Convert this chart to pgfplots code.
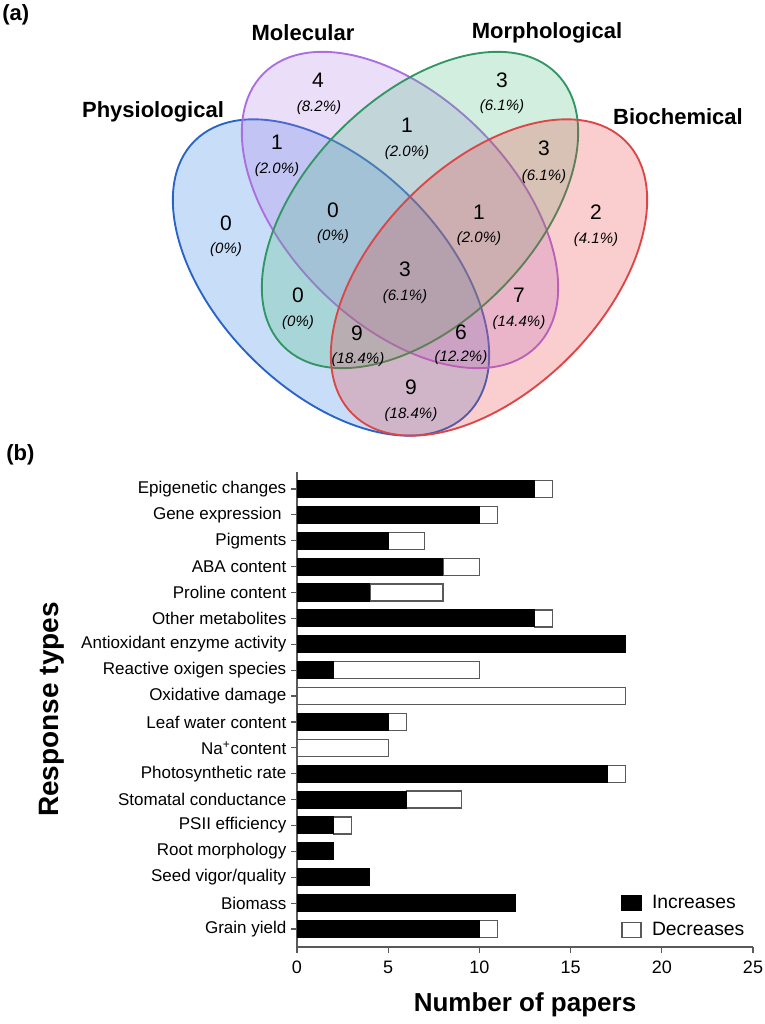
\documentclass[border=0pt]{standalone}
\usepackage{pgfplots}
\pgfplotsset{compat=1.18}
\usepackage{fontspec}
\setmainfont{Liberation Sans}
\definecolor{physS}{RGB}{40,100,200}
\definecolor{physF}{RGB}{35,123,227}
\definecolor{molS}{RGB}{170,110,225}
\definecolor{molF}{RGB}{175,123,227}
\definecolor{morS}{RGB}{50,150,100}
\definecolor{morF}{RGB}{75,187,123}
\definecolor{bioS}{RGB}{220,70,70}
\definecolor{bioF}{RGB}{235,60,60}
\newcommand{\nf}{\fontsize{15.75}{17}\selectfont}
\newcommand{\pf}{\fontsize{11.25}{13}\selectfont\itshape}
\newcommand{\lf}{\fontsize{16.5}{18}\selectfont\bfseries}
\begin{document}
\begin{tikzpicture}
\useasboundingbox (0,0) rectangle (573pt,768pt);
% ---------------- (a) Venn diagram ----------------
\begin{axis}[
  at={(0pt,434.25pt)}, anchor=south west,
  x=0.75pt, y=0.75pt,
  xmin=0, xmax=764, ymin=0, ymax=445,
  hide axis, clip=false,
]
\filldraw[draw=physS, fill=physF, fill opacity=0.25, line width=1.4pt,
  rotate around={-45:(axis cs:331,167.5)}] (axis cs:331,167.5) ellipse [x radius=193, y radius=113];
\filldraw[draw=molS, fill=molF, fill opacity=0.25, line width=1.4pt,
  rotate around={-45:(axis cs:400,235)}] (axis cs:400,235) ellipse [x radius=193, y radius=113];
\filldraw[draw=morS, fill=morF, fill opacity=0.25, line width=1.4pt,
  rotate around={45:(axis cs:420,235)}] (axis cs:420,235) ellipse [x radius=193, y radius=113];
\filldraw[draw=bioS, fill=bioF, fill opacity=0.25, line width=1.4pt,
  rotate around={45:(axis cs:489,167.5)}] (axis cs:489,167.5) ellipse [x radius=193, y radius=113];
% labels
\node[font=\lf] at (axis cs:303,412) {Molecular};
\node[font=\lf] at (axis cs:547,412) {Morphological};
\node[font=\lf] at (axis cs:153,333) {Physiological};
\node[font=\lf] at (axis cs:678,328) {Biochemical};
\node[font=\lf, anchor=west, inner sep=0pt] at (axis cs:2,430) {(a)};
\node[font=\lf, anchor=west, inner sep=0pt] at (axis cs:6,-10) {(b)};
% counts
\node[font=\nf] at (axis cs:318,365) {4};  \node[font=\pf] at (axis cs:319,337) {(8.2\%)};
\node[font=\nf] at (axis cs:277,303) {1};  \node[font=\pf] at (axis cs:277,275) {(2.0\%)};
\node[font=\nf] at (axis cs:226,222) {0};  \node[font=\pf] at (axis cs:226,195) {(0\%)};
\node[font=\nf] at (axis cs:333,235) {0};  \node[font=\pf] at (axis cs:333,208) {(0\%)};
\node[font=\nf] at (axis cs:298,150) {0};  \node[font=\pf] at (axis cs:298,122) {(0\%)};
\node[font=\nf] at (axis cs:357,112) {9};  \node[font=\pf] at (axis cs:358,85) {(18.4\%)};
\node[font=\nf] at (axis cs:502,365) {3};  \node[font=\pf] at (axis cs:502,338) {(6.1\%)};
\node[font=\nf] at (axis cs:407,320) {1};  \node[font=\pf] at (axis cs:407,292) {(2.0\%)};
\node[font=\nf] at (axis cs:544,297) {3};  \node[font=\pf] at (axis cs:544,268) {(6.1\%)};
\node[font=\nf] at (axis cs:479,233) {1};  \node[font=\pf] at (axis cs:479,206) {(2.0\%)};
\node[font=\nf] at (axis cs:596,233) {2};  \node[font=\pf] at (axis cs:596,205) {(4.1\%)};
\node[font=\nf] at (axis cs:405,176) {3};  \node[font=\pf] at (axis cs:405,148) {(6.1\%)};
\node[font=\nf] at (axis cs:519,150) {7};  \node[font=\pf] at (axis cs:519,122) {(14.4\%)};
\node[font=\nf] at (axis cs:461,113) {6};  \node[font=\pf] at (axis cs:461,87) {(12.2\%)};
\node[font=\nf] at (axis cs:411,58) {9};   \node[font=\pf] at (axis cs:411,30) {(18.4\%)};
\end{axis}
% ---------------- (b) bar chart ----------------
\begin{axis}[
  at={(222.75pt,57.75pt)}, anchor=south west,
  scale only axis, width=342pt, height=356.25pt,
  xbar stacked, bar width=12.75pt,
  xmin=0, xmax=25, ymin=-0.696, ymax=17.657,
  xtick={0,5,10,15,20,25},
  ytick={0,...,17},
  yticklabels={Grain yield, Biomass, Seed vigor/quality, Root morphology, PSII efficiency,
    Stomatal conductance, Photosynthetic rate, Na\textsuperscript{+}content, Leaf water content,
    Oxidative damage, Reactive oxigen species, Antioxidant enzyme activity, Other metabolites,
    Proline content, ABA content, Pigments, Gene expression\ \ , Epigenetic changes},
  axis x line*=bottom, axis y line*=left,
  axis line style={draw=black!65, line width=0.9pt},
  every tick/.style={draw=black!65, line width=0.9pt},
  tick align=outside, major tick length=4.5pt,
  /pgf/number format/assume math mode=true,
  ticklabel style={font=\fontsize{12.75}{14}\selectfont},
  xticklabel style={font=\fontsize{13.5}{15}\selectfont, yshift=-2.5pt},
  xlabel={Number of papers},
  xlabel style={font=\fontsize{19.5}{22}\selectfont\bfseries, at={(axis description cs:0.5,-0.122)}, anchor=center},
  ylabel={Response types},
  ylabel style={font=\fontsize{21}{24}\selectfont\bfseries, at={(axis description cs:-0.538,0.50)}, anchor=center},
  legend style={draw=none, fill=none, at={(axis description cs:0.711,0.115)}, anchor=north west,
    font=\fontsize{14.5}{16}\selectfont, row sep=5pt, inner sep=0pt},
  legend cell align=left,
  legend image code/.code={\draw[#1, line width=0.9pt] (0pt,-5.6pt) rectangle (14.25pt,5.6pt); \path (20pt,0pt);},
]
\addplot[fill=black, draw=black, line width=0.8pt] coordinates {
  (10,0) (12,1) (4,2) (2,3) (2,4) (6,5) (17,6) (0,7) (5,8) (0,9)
  (2,10) (18,11) (13,12) (4,13) (8,14) (5,15) (10,16) (13,17)};
\addplot[fill=white, draw=black!65, line width=0.9pt] coordinates {
  (1,0) (0,1) (0,2) (0,3) (1,4) (3,5) (1,6) (5,7) (1,8) (18,9)
  (8,10) (0,11) (1,12) (4,13) (2,14) (2,15) (1,16) (1,17)};
\addlegendentry{Increases}
\addlegendentry{Decreases}
\end{axis}
\end{tikzpicture}
\end{document}
